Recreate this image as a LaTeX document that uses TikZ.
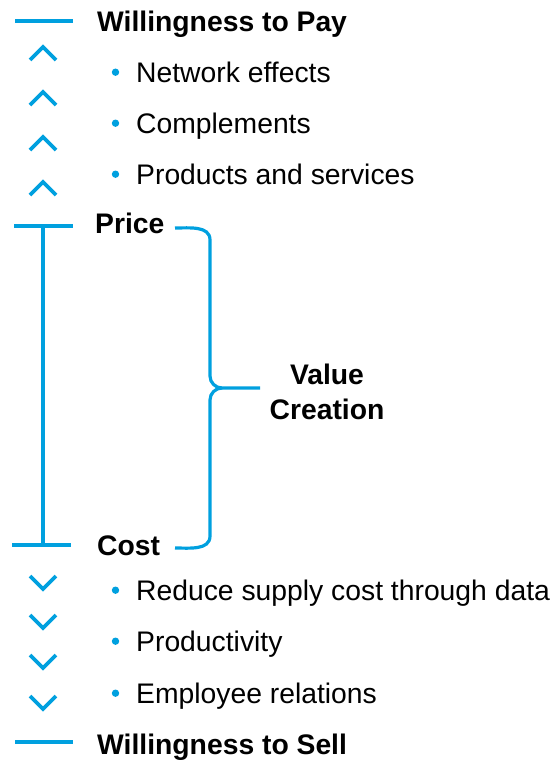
\documentclass[tikz,border=0pt]{standalone}
\usepackage{fontspec}
\setmainfont{Liberation Sans}
\definecolor{vcblue}{RGB}{0,160,223}
\begin{document}
\begin{tikzpicture}[
		x=1pt,y=-1pt,
		bar/.style={draw=vcblue,line width=3.7pt},
		chev/.style={draw=vcblue,line width=3.7pt},
		txt/.style={anchor=base west,inner sep=0pt,font=\fontsize{28.3}{35}\selectfont},
		head/.style={txt,font=\fontsize{28.3}{35}\selectfont\bfseries}
		]
		\useasboundingbox (0,0) rectangle (550,760);
		% levels
		\node[head] (wtp) at (97,32) {Willingness to Pay};
		\node[head] (price) at (95,233) {Price};
		\node[head] (cost) at (97,555) {Cost};
		\node[head] (wts) at (97,754) {Willingness to Sell};
		\draw[bar] (15,21) -- (73,21);
		\draw[bar] (14,226) -- (73,226);
		\draw[bar] (12,545) -- (71,545);
		\draw[bar] (15,742) -- (73,742);
		\coordinate (ptop) at (43,226);
		\coordinate (cbot) at (43,545);
		\draw[bar] (ptop) -- (cbot);
		% drivers
		\foreach \y/\t [count=\i] in {82/Network effects,133/Complements,184/Products and services}{
			\node[txt] (up\i) at (136,\y) {\t};
			\fill[vcblue] ([xshift=-20.5pt,yshift=9.8pt]up\i.base west) circle (3.7pt);
		}
		\foreach \y/\t [count=\i] in {600/Reduce supply cost through data,651/Productivity,703/Employee relations}{
			\node[txt] (down\i) at (136,\y) {\t};
			\fill[vcblue] ([xshift=-20.5pt,yshift=9.8pt]down\i.base west) circle (3.7pt);
		}
		\foreach \y in {47,92,137,182}
			\draw[chev] (30,\y+13) -- (43,\y) -- (56,\y+13);
		\foreach \y in {589,628,668,709}
			\draw[chev] (30,\y-13) -- (43,\y) -- (56,\y-13);
		% brace
		\node[head,anchor=center,align=center] (value) at (327,392) {Value\\Creation};
		\coordinate (btop) at (175,228);
		\coordinate (bbot) at (175,548);
		\coordinate (btip) at (260,388);
		\begin{scope}[draw=vcblue,line width=3.2pt]
		\draw (btop) to[out=0,in=90] (210,240) -- (210,376) to[out=-90,in=180] (222,388) -- (btip);
		\draw (222,388) to[out=180,in=90] (210,400) -- (210,536) to[out=-90,in=0] (bbot);
		\end{scope}
		\end{tikzpicture}
\end{document}
